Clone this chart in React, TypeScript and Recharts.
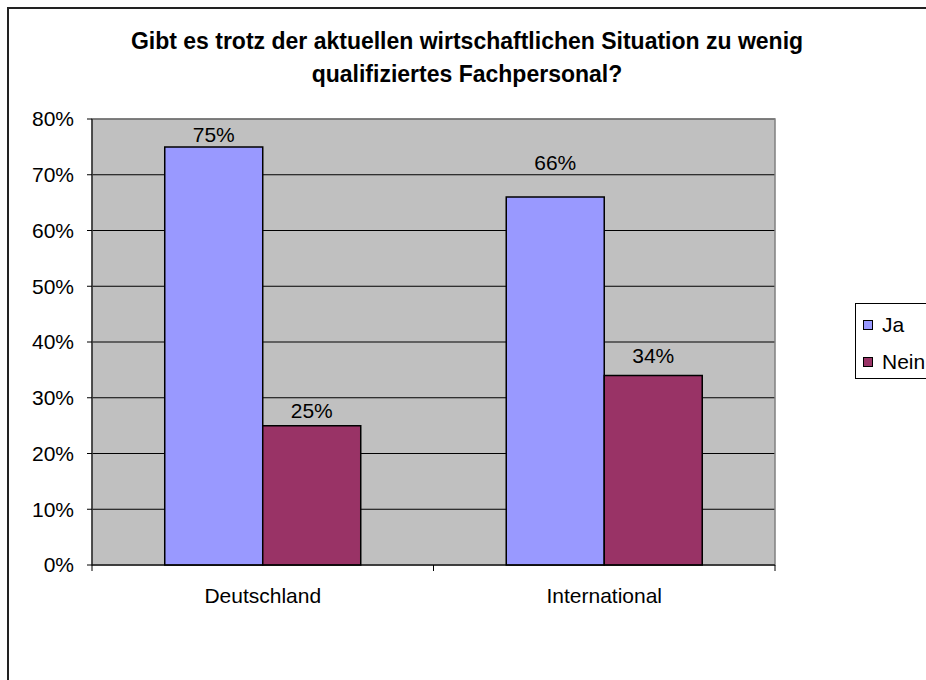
import React from 'react';
import { BarChart, Bar, XAxis, YAxis, CartesianGrid, ReferenceArea, LabelList, Legend } from 'recharts';

const categories = ['Deutschland', 'International'];
const jaValues = [75, 66];
const neinValues = [25, 34];
const yTicks = [0, 10, 20, 30, 40, 50, 60, 70, 80];
const seriesNames = ['Ja', 'Nein'];
const seriesColors = ['#9999FF', '#993366'];
const titleLines = [
  'Gibt es trotz der aktuellen wirtschaftlichen Situation zu wenig',
  'qualifiziertes Fachpersonal?',
];

const data = categories.map((c, i) => ({ name: c, Ja: jaValues[i], Nein: neinValues[i] }));

const FONT = '"Liberation Sans", Arial, sans-serif';
const CHART_W = 917;
const CHART_H = 671;
const MARGIN = { top: 110, right: 151, bottom: 75, left: 0 };
const Y_AXIS_W = 83;
const PLOT_W = CHART_W - MARGIN.right - MARGIN.left - Y_AXIS_W;
const LABEL_GAPS: Record<string, number[]> = { Ja: [5, 27], Nein: [8, 12] };

const XTick = (props: any) => {
  const { x, y, payload, index } = props;
  const bw = PLOT_W / categories.length;
  const last = index === categories.length - 1;
  return (
    <g>
      <line x1={x - bw / 2} x2={x - bw / 2} y1={y} y2={y + 6} stroke="#000" strokeWidth={1} />
      {last && <line x1={x + bw / 2} x2={x + bw / 2} y1={y} y2={y + 6} stroke="#000" strokeWidth={1} />}
      <text x={x} y={y + 38} textAnchor="middle" fontSize={21} fontFamily={FONT} fill="#000">
        {payload.value}
      </text>
    </g>
  );
};

const makeLabel = (key: string) => (props: any) => {
  const { x, y, width, value, index } = props;
  return (
    <text
      x={x + width / 2}
      y={y - LABEL_GAPS[key][index]}
      textAnchor="middle"
      fontSize={21}
      fontFamily={FONT}
      fill="#000"
    >
      {value}%
    </text>
  );
};

const LegendContent = () => (
  <div
    style={{
      border: '1px solid #000',
      background: '#fff',
      width: 100,
      height: 76,
      boxSizing: 'border-box',
      paddingTop: 2,
      paddingLeft: 7,
      fontFamily: FONT,
      fontSize: 21,
      color: '#000',
    }}
  >
    {seriesNames.map((n, i) => (
      <div key={n} style={{ height: 37, display: 'flex', alignItems: 'center' }}>
        <span
          style={{
            display: 'inline-block',
            width: 10,
            height: 10,
            background: seriesColors[i],
            border: '1px solid #000',
            marginRight: 9,
            boxSizing: 'border-box',
          }}
        />
        <span style={{ lineHeight: 1 }}>{n}</span>
      </div>
    ))}
  </div>
);

export default function App() {
  return (
    <div
      style={{
        position: 'fixed',
        left: 7,
        top: 7,
        width: 919,
        height: 673,
        borderLeft: '2px solid #222',
        borderTop: '2px solid #222',
        boxSizing: 'border-box',
        overflow: 'hidden',
        background: '#fff',
      }}
    >
      <svg width={CHART_W} height={110} style={{ position: 'absolute', left: 0, top: 0 }}>
        {titleLines.map((t, i) => (
          <text
            key={i}
            x={458}
            y={40 + i * 33}
            textAnchor="middle"
            fontFamily={FONT}
            fontWeight="bold"
            fontSize={23}
            fill="#000"
          >
            {t}
          </text>
        ))}
      </svg>
      <BarChart
        width={CHART_W}
        height={CHART_H}
        data={data}
        margin={MARGIN}
        barCategoryGap="21.3%"
        barGap={0}
        style={{ position: 'absolute', left: 0, top: 0 }}
      >
        <CartesianGrid vertical={false} stroke="#000" fill="#C0C0C0" fillOpacity={1} />
        <ReferenceArea y1={0} y2={80} fill="none" stroke="#808080" strokeWidth={1.5} ifOverflow="visible" />
        <XAxis
          dataKey="name"
          height={40}
          axisLine={{ stroke: '#000', strokeWidth: 1 }}
          tickLine={false}
          tickSize={0}
          tickMargin={0}
          tick={<XTick />}
          interval={0}
        />
        <YAxis
          width={Y_AXIS_W}
          domain={[0, 80]}
          ticks={yTicks}
          tickFormatter={(v: number) => `${v}%`}
          axisLine={{ stroke: '#000', strokeWidth: 1 }}
          tickLine={{ stroke: '#000' }}
          tickSize={5}
          tickMargin={13}
          tick={{ fontSize: 21, fontFamily: FONT, fill: '#000' }}
        />
        <Legend
          layout="vertical"
          align="center"
          verticalAlign="middle"
          content={<LegendContent />}
          wrapperStyle={{ left: 846, top: 294, width: 100, height: 76 }}
        />
        <Bar dataKey="Ja" name="Ja" fill={seriesColors[0]} stroke="#000" strokeWidth={1.5} isAnimationActive={false}>
          <LabelList dataKey="Ja" content={makeLabel('Ja')} />
        </Bar>
        <Bar dataKey="Nein" name="Nein" fill={seriesColors[1]} stroke="#000" strokeWidth={1.5} isAnimationActive={false}>
          <LabelList dataKey="Nein" content={makeLabel('Nein')} />
        </Bar>
      </BarChart>
    </div>
  );
}
